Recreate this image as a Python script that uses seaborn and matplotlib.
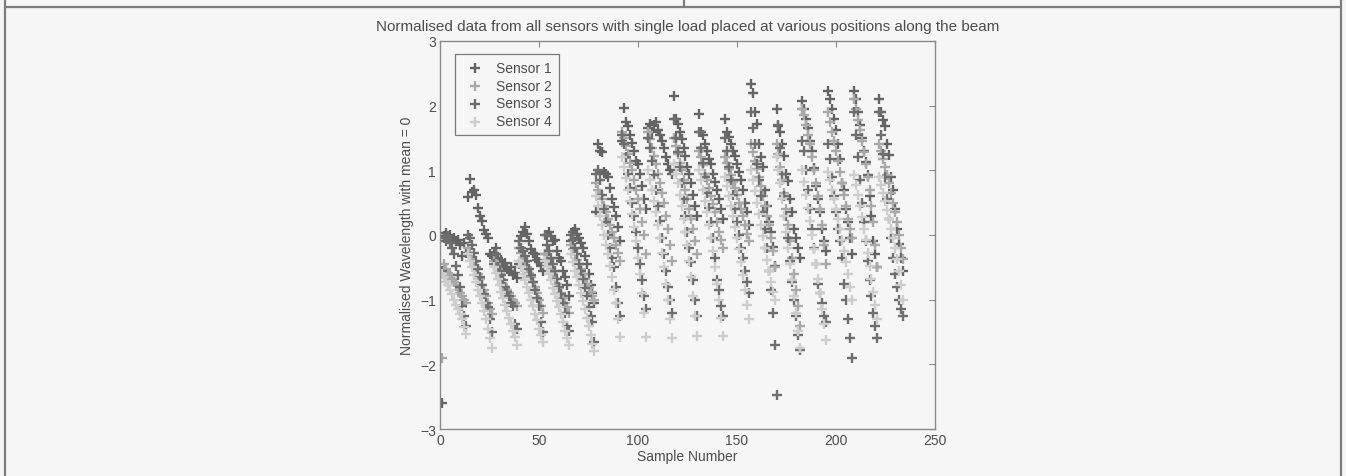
import numpy as np
import pandas as pd
import matplotlib
matplotlib.use("Agg")
import matplotlib.pyplot as plt
from matplotlib.lines import Line2D
import seaborn as sns

# values, 13 samples per load position
sensor_1 = [
    -2.60, -0.02, 0.03, -0.05, 0.00, -0.08, -0.04, -0.10, -0.07, -0.15, -0.33, -0.12, -0.28,
    0.58, 0.87, 0.66, 0.70, 0.62, 0.42, 0.30, 0.21, 0.08, 0.02, -0.05, -0.30, -0.33,
    -0.28, -0.20, -0.35, -0.42, -0.38, -0.47, -0.44, -0.52, -0.55, -0.50, -0.62, -0.58, -0.66,
    -0.45, -0.02, 0.05, 0.12, 0.02, -0.10, -0.22, -0.28, -0.30, -0.38, -0.42, -0.48, -0.55,
    -0.30, 0.00, 0.05, -0.02, -0.10, -0.08, -0.25, -0.35, -0.40, -0.55, -0.65, -0.78, -0.95,
    -0.10, 0.05, 0.10, 0.02, -0.05, -0.12, -0.20, -0.32, -0.45, -0.60, -0.78, -0.90, -1.05,
    0.36, 1.40, 1.30, 1.28, 0.98, 0.95, 0.90, 0.72, 0.55, 0.44, 0.30, 0.12, -0.10,
    1.45, 1.97, 1.75, 1.68, 1.55, 1.42, 1.30, 1.15, 1.10, 0.95, 0.75, 0.55, 0.40,
    1.65, 1.72, 1.60, 1.70, 1.75, 1.62, 1.55, 1.45, 1.35, 1.20, 1.10, 1.00, 0.95,
    2.15, 1.80, 1.72, 1.60, 1.48, 1.35, 1.22, 1.05, 0.95, 0.80, 0.62, 0.45, 0.30,
    1.87, 1.60, 1.55, 1.40, 1.30, 1.18, 1.10, 0.95, 0.82, 0.70, 0.55, 0.40, 0.25,
    1.79, 1.60, 1.52, 1.40, 1.30, 1.22, 1.10, 0.98, 0.85, 0.70, 0.50, 0.35, 0.16,
    2.33, 2.20, 1.90, 1.72, 1.40, 1.20, 1.05, 0.70, 0.45, 0.20, 0.05, -0.18, -0.48,
    1.95, 1.68, 1.60, 1.40, 1.22, 0.95, 0.83, 0.55, 0.35, 0.10, -0.05, -0.20, -0.35,
    2.07, 1.95, 1.80, 1.65, 1.45, 1.30, 1.04, 0.75, 0.55, 0.35, 0.10, -0.10, -0.25,
    2.22, 2.10, 1.95, 1.80, 1.62, 1.40, 1.18, 0.80, 0.70, 0.40, 0.20, -0.05, -0.30,
    2.22, 2.10, 1.90, 1.70, 1.50, 1.30, 1.13, 0.93, 0.60, 0.30, -0.10, -0.30, -0.50,
    2.10, 1.90, 1.78, 1.68, 1.40, 1.24, 0.90, 0.70, 0.40, 0.10, -0.14, -0.35, -0.55,
]
sensor_2 = [
    -1.90, -0.45, -0.52, -0.58, -0.62, -0.68, -0.72, -0.78, -0.85, -0.90, -0.95, -1.00, -1.05,
    -0.20, -0.28, -0.35, -0.42, -0.50, -0.60, -0.68, -0.78, -0.85, -0.95, -1.05, -1.15, -1.22,
    -0.40, -0.45, -0.52, -0.60, -0.68, -0.75, -0.80, -0.85, -0.90, -0.95, -1.00, -1.05, -1.10,
    -0.20, -0.28, -0.35, -0.42, -0.50, -0.58, -0.65, -0.72, -0.80, -0.90, -1.00, -1.10, -1.20,
    -0.30, -0.38, -0.45, -0.52, -0.60, -0.68, -0.75, -0.82, -0.90, -0.98, -1.05, -1.12, -1.20,
    -0.15, -0.22, -0.30, -0.38, -0.45, -0.52, -0.60, -0.68, -0.75, -0.82, -0.88, -0.95, -1.00,
    0.80, 0.70, 0.62, 0.55, 0.45, 0.35, 0.25, 0.15, 0.05, -0.05, -0.15, -0.28, -0.40,
    1.60, 1.50, 1.38, 1.25, 1.12, 1.00, 0.85, 0.70, 0.55, 0.40, 0.20, 0.00, -0.30,
    1.60, 1.48, 1.35, 1.22, 1.10, 0.95, 0.80, 0.65, 0.50, 0.30, 0.10, -0.15, -0.40,
    1.50, 1.38, 1.25, 1.12, 1.00, 0.85, 0.70, 0.55, 0.40, 0.25, 0.10, -0.10, -0.30,
    1.30, 1.20, 1.08, 0.95, 0.85, 0.72, 0.60, 0.48, 0.35, 0.20, 0.05, -0.08, -0.20,
    1.20, 1.12, 1.02, 0.92, 0.82, 0.72, 0.62, 0.50, 0.40, 0.30, 0.15, 0.02, -0.10,
    1.40, 1.28, 1.15, 1.02, 0.90, 0.75, 0.60, 0.45, 0.30, 0.15, -0.05, -0.25, -0.50,
    1.40, 1.25, 1.05, 0.85, 0.65, 0.40, 0.15, -0.10, -0.35, -0.60, -0.85, -1.10, -1.40,
    1.95, 1.85, 1.70, 1.55, 1.40, 1.20, 1.00, 0.80, 0.60, 0.40, 0.15, -0.15, -0.45,
    1.90, 1.75, 1.60, 1.45, 1.30, 1.15, 0.98, 0.80, 0.62, 0.45, 0.25, 0.10, -0.05,
    2.10, 1.95, 1.78, 1.62, 1.45, 1.28, 1.10, 0.90, 0.70, 0.45, 0.20, -0.15, -0.50,
    1.40, 1.30, 1.18, 1.05, 0.92, 0.80, 0.65, 0.50, 0.35, 0.20, 0.00, -0.20, -0.37,
]
sensor_3 = [
    -0.55, -0.05, -0.10, -0.02, -0.12, -0.20, -0.30, -0.48, -0.62, -0.80, -1.10, -1.25, -1.40,
    0.00, -0.05, -0.15, -0.28, -0.40, -0.52, -0.65, -0.78, -0.92, -1.05, -1.12, -1.30, -1.50,
    -0.45, -0.30, -0.50, -0.55, -0.62, -0.70, -0.80, -0.88, -0.95, -1.05, -1.10, -1.38, -1.45,
    -0.10, -0.20, -0.25, -0.32, -0.40, -0.52, -0.62, -0.72, -0.85, -0.98, -1.10, -1.35, -1.50,
    0.00, -0.15, -0.25, -0.35, -0.45, -0.55, -0.68, -0.80, -0.92, -1.05, -1.20, -1.40, -1.48,
    0.00, -0.08, -0.20, -0.30, -0.45, -0.55, -0.68, -0.82, -0.95, -1.12, -1.25, -1.35, -1.65,
    0.95, 1.00, 0.85, 0.62, 0.40, 0.20, 0.00, -0.20, -0.35, -0.50, -0.80, -1.05, -1.25,
    1.55, 1.40, 1.20, 0.95, 0.72, 0.50, 0.30, 0.05, -0.20, -0.45, -0.70, -0.95, -1.15,
    1.50, 1.35, 1.15, 0.92, 0.70, 0.45, 0.22, -0.05, -0.30, -0.55, -0.80, -1.00, -1.20,
    1.80, 1.50, 1.28, 1.05, 0.80, 0.55, 0.30, 0.05, -0.20, -0.42, -0.70, -1.00, -1.25,
    1.60, 1.35, 1.12, 0.90, 0.65, 0.42, 0.20, -0.05, -0.35, -0.70, -0.85, -1.10, -1.25,
    1.50, 1.30, 1.05, 0.85, 0.62, 0.40, 0.20, 0.00, -0.20, -0.36, -0.55, -0.72, -0.90,
    1.90, 1.65, 1.40, 1.10, 0.85, 0.60, 0.35, 0.09, -0.20, -0.55, -0.85, -1.20, -1.70,
    -2.48, 1.70, 1.35, 0.95, 0.60, 0.30, -0.05, -0.40, -0.72, -1.00, -1.25, -1.55, -1.78,
    1.45, 1.30, 1.00, 0.70, 0.40, 0.10, -0.20, -0.45, -0.75, -0.90, -1.05, -1.25, -1.35,
    1.40, 1.18, 0.90, 0.60, 0.35, 0.10, -0.10, -0.35, -0.75, -1.00, -1.30, -1.60, -1.90,
    1.90, 1.55, 1.20, 0.85, 0.50, 0.20, -0.10, -0.40, -0.70, -0.95, -1.20, -1.40, -1.60,
    1.90, 1.55, 1.25, 0.90, 0.55, 0.25, -0.05, -0.35, -0.60, -0.80, -1.00, -1.15, -1.26,
]
sensor_4 = [
    -0.60, -0.65, -0.72, -0.78, -0.85, -0.92, -1.00, -1.08, -1.15, -1.22, -1.30, -1.42, -1.53,
    -0.30, -0.40, -0.50, -0.62, -0.72, -0.85, -0.95, -1.05, -1.18, -1.30, -1.45, -1.60, -1.75,
    -0.50, -0.58, -0.68, -0.78, -0.88, -0.98, -1.08, -1.18, -1.28, -1.38, -1.48, -1.58, -1.70,
    -0.40, -0.50, -0.60, -0.70, -0.80, -0.90, -1.00, -1.10, -1.22, -1.32, -1.45, -1.55, -1.66,
    -0.40, -0.50, -0.60, -0.70, -0.82, -0.92, -1.02, -1.12, -1.22, -1.35, -1.48, -1.60, -1.70,
    -0.30, -0.42, -0.55, -0.65, -0.78, -0.90, -1.02, -1.15, -1.28, -1.40, -1.55, -1.68, -1.80,
    0.60, 0.45, 0.30, 0.15, 0.00, -0.15, -0.30, -0.48, -0.65, -0.85, -1.05, -1.30, -1.57,
    1.20, 1.05, 0.88, 0.70, 0.52, 0.32, 0.12, -0.10, -0.35, -0.60, -0.90, -1.20, -1.58,
    1.00, 0.85, 0.70, 0.52, 0.35, 0.15, -0.05, -0.28, -0.50, -0.75, -1.00, -1.30, -1.60,
    1.10, 0.95, 0.80, 0.62, 0.45, 0.25, 0.05, -0.15, -0.40, -0.65, -0.95, -1.25, -1.56,
    1.00, 0.85, 0.70, 0.52, 0.35, 0.15, -0.05, -0.25, -0.50, -0.75, -1.00, -1.28, -1.56,
    0.90, 0.75, 0.60, 0.45, 0.30, 0.12, -0.05, -0.22, -0.42, -0.62, -0.85, -1.08, -1.30,
    1.00, 0.85, 0.68, 0.50, 0.32, 0.15, -0.02, -0.20, -0.38, -0.55, -0.72, -0.88, -1.00,
    1.20, 1.00, 0.80, 0.55, 0.30, 0.05, -0.20, -0.45, -0.70, -0.95, -1.20, -1.48, -1.75,
    1.00, 0.82, 0.62, 0.42, 0.22, 0.00, -0.22, -0.45, -0.68, -0.90, -1.15, -1.38, -1.62,
    0.98, 0.85, 0.70, 0.55, 0.40, 0.25, 0.10, -0.08, -0.25, -0.42, -0.60, -0.80, -1.00,
    0.93, 0.78, 0.62, 0.45, 0.28, 0.10, -0.08, -0.28, -0.48, -0.68, -0.88, -1.08, -1.30,
    0.90, 0.78, 0.65, 0.52, 0.38, 0.25, 0.10, -0.05, -0.20, -0.37, -0.55, -0.78, -1.00,
]

sensor_names = ["Sensor 1", "Sensor 2", "Sensor 3", "Sensor 4"]
sensor_colors = ["#646464", "#a9a9a9", "#6e6e6e", "#cdcdcd"]
x_ticks = [0, 50, 100, 150, 200, 250]
y_ticks = [-3, -2, -1, 0, 1, 2, 3]

samples = np.arange(1, len(sensor_1) + 1)
all_vals = [sensor_1, sensor_2, sensor_3, sensor_4]
df = pd.concat(
    [pd.DataFrame({"Sample": samples, "Value": v, "Sensor": n}) for v, n in zip(all_vals, sensor_names)],
    ignore_index=True,
)

sns.set_style("white")
plt.rcParams["font.family"] = ["Liberation Sans", "DejaVu Sans"]
txt = "#4d4d4d"
bg = "#f6f6f6"

fig = plt.figure(figsize=(13.46, 4.77), dpi=100, facecolor=bg)
ax = fig.add_axes([0.327, 0.0985, 0.3675, 0.8135])
ax.set_facecolor(bg)

for name, col in zip(sensor_names, sensor_colors):
    sub = df[df["Sensor"] == name]
    sns.scatterplot(data=sub, x="Sample", y="Value", marker="+", color=col,
                    s=42, linewidth=1.7, label=name, ax=ax)

ax.set_xlim(0, 250)
ax.set_ylim(-3, 3)
ax.set_xticks(x_ticks)
ax.set_yticks(y_ticks)
ax.tick_params(direction="in", top=True, right=True, length=4, width=0.8,
               color="#8a8a8a", labelcolor=txt, labelsize=10, pad=3)
for sp in ax.spines.values():
    sp.set_color("#8a8a8a")
    sp.set_linewidth(1.0)

ax.set_xlabel("Sample Number", fontsize=10, color=txt, labelpad=1)
ax.set_ylabel("Normalised Wavelength with mean = 0", fontsize=10, color=txt, labelpad=4)
ax.set_title("Normalised data from all sensors with single load placed at various positions along the beam",
             fontsize=11, color=txt, pad=8)

leg = ax.legend(loc="upper left", bbox_to_anchor=(0.015, 0.985), fontsize=10, frameon=True,
                fancybox=False, edgecolor="#7a7a7a", facecolor=bg, framealpha=1,
                handletextpad=0.5, borderpad=0.5, labelspacing=0.28, handlelength=2.0)
leg.get_frame().set_linewidth(0.9)
for t in leg.get_texts():
    t.set_color(txt)

# page frame from the scanned document
frame = dict(color="#7d7d7d", linewidth=1.6, transform=fig.transFigure)
fig.add_artist(Line2D([0.004, 0.996], [0.983, 0.983], **frame))
fig.add_artist(Line2D([0.004, 0.004], [0.0, 1.0], **frame))
fig.add_artist(Line2D([0.996, 0.996], [0.0, 1.0], **frame))
fig.add_artist(Line2D([0.508, 0.508], [0.983, 1.0], **frame))

fig.savefig("out.png", dpi=100, facecolor=bg)
